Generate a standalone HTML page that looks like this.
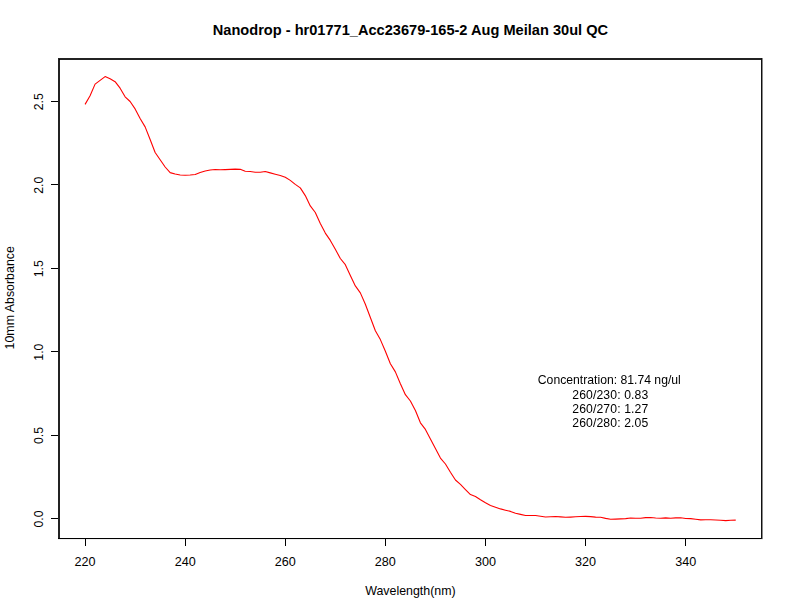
<!DOCTYPE html><html><head><meta charset="utf-8"><style>html,body{margin:0;padding:0;background:#fff;}svg{display:block;}#w{position:relative;width:792px;height:612px;overflow:hidden;}.ov{position:absolute;left:0;top:0;will-change:transform;}</style></head><body>
<div id="w"><svg width="792" height="612" viewBox="0 0 792 612">
<rect x="0" y="0" width="792" height="612" fill="#fff"/>
<text transform="translate(410.4,34.95) scale(1,1.065)" x="0" y="0" text-anchor="middle" font-family="Liberation Sans, Arial, sans-serif" font-weight="bold" font-size="14.6" fill="#000">Nanodrop - hr01771_Acc23679-165-2 Aug Meilan 30ul QC</text>
<rect x="58" y="58" width="704" height="2" fill="#232323"/>
<rect x="58" y="58" width="2" height="481" fill="#232323"/>
<rect x="59" y="59" width="1" height="1" fill="#000"/>
<rect x="58" y="538" width="705" height="1" fill="#000"/>
<rect x="58" y="539" width="705" height="1" fill="#f0f0f0"/>
<rect x="761" y="58" width="1" height="481" fill="#111"/>
<rect x="762" y="58" width="1" height="481" fill="#8a8a8a"/>
<rect x="85" y="539" width="1" height="7" fill="#000"/>
<text x="85.07" y="566" text-anchor="middle" font-family="Liberation Sans, Arial, sans-serif" font-size="12.6" fill="#000">220</text>
<rect x="185" y="539" width="1" height="7" fill="#000"/>
<text x="185.17" y="566" text-anchor="middle" font-family="Liberation Sans, Arial, sans-serif" font-size="12.6" fill="#000">240</text>
<rect x="285" y="539" width="1" height="7" fill="#000"/>
<text x="285.27" y="566" text-anchor="middle" font-family="Liberation Sans, Arial, sans-serif" font-size="12.6" fill="#000">260</text>
<rect x="385" y="539" width="1" height="7" fill="#000"/>
<text x="385.37" y="566" text-anchor="middle" font-family="Liberation Sans, Arial, sans-serif" font-size="12.6" fill="#000">280</text>
<rect x="485" y="539" width="1" height="7" fill="#000"/>
<text x="485.48" y="566" text-anchor="middle" font-family="Liberation Sans, Arial, sans-serif" font-size="12.6" fill="#000">300</text>
<rect x="585" y="539" width="1" height="7" fill="#000"/>
<text x="585.58" y="566" text-anchor="middle" font-family="Liberation Sans, Arial, sans-serif" font-size="12.6" fill="#000">320</text>
<rect x="685" y="539" width="1" height="7" fill="#000"/>
<text x="685.68" y="566" text-anchor="middle" font-family="Liberation Sans, Arial, sans-serif" font-size="12.6" fill="#000">340</text>
<rect x="51" y="518" width="7" height="1" fill="#000"/>
<text transform="translate(43.2,519.00) rotate(-90)" x="0" y="0" text-anchor="middle" font-family="Liberation Sans, Arial, sans-serif" font-size="12.3" fill="#000">0.0</text>
<rect x="51" y="435" width="7" height="1" fill="#000"/>
<text transform="translate(43.2,435.56) rotate(-90)" x="0" y="0" text-anchor="middle" font-family="Liberation Sans, Arial, sans-serif" font-size="12.3" fill="#000">0.5</text>
<rect x="51" y="351" width="7" height="1" fill="#000"/>
<text transform="translate(43.2,352.12) rotate(-90)" x="0" y="0" text-anchor="middle" font-family="Liberation Sans, Arial, sans-serif" font-size="12.3" fill="#000">1.0</text>
<rect x="51" y="268" width="7" height="1" fill="#000"/>
<text transform="translate(43.2,268.68) rotate(-90)" x="0" y="0" text-anchor="middle" font-family="Liberation Sans, Arial, sans-serif" font-size="12.3" fill="#000">1.5</text>
<rect x="51" y="184" width="7" height="1" fill="#000"/>
<text transform="translate(43.2,185.24) rotate(-90)" x="0" y="0" text-anchor="middle" font-family="Liberation Sans, Arial, sans-serif" font-size="12.3" fill="#000">2.0</text>
<rect x="51" y="101" width="7" height="1" fill="#000"/>
<text transform="translate(43.2,101.80) rotate(-90)" x="0" y="0" text-anchor="middle" font-family="Liberation Sans, Arial, sans-serif" font-size="12.3" fill="#000">2.5</text>
<text x="410.4" y="594.7" text-anchor="middle" font-family="Liberation Sans, Arial, sans-serif" font-size="12.4" fill="#000">Wavelength(nm)</text>
<text transform="translate(14.3,297.8) rotate(-90)" x="0" y="0" text-anchor="middle" font-family="Liberation Sans, Arial, sans-serif" font-size="12.4" fill="#000">10mm Absorbance</text>
<polyline points="85.07,104.40 90.07,95.80 95.08,84.10 100.08,80.40 105.09,76.60 110.09,78.80 115.10,81.70 120.10,88.20 125.11,96.80 130.11,101.50 135.12,108.90 140.12,118.50 145.13,126.90 150.13,139.50 155.14,152.50 160.14,159.80 165.15,167.00 170.15,172.60 175.16,174.00 180.16,175.00 185.17,175.20 190.17,175.00 195.18,174.50 200.18,172.50 205.19,171.00 210.19,170.00 215.20,169.50 220.21,169.75 225.21,169.60 230.22,169.35 235.22,169.10 240.23,169.35 245.23,171.30 250.24,171.50 255.24,172.20 260.25,172.30 265.25,171.50 270.26,172.90 275.26,174.20 280.27,175.50 285.27,177.30 290.28,180.40 295.28,184.40 300.29,187.90 305.29,195.60 310.30,205.90 315.30,212.50 320.31,223.50 325.31,233.10 330.32,240.40 335.32,249.30 340.33,258.50 345.33,264.70 350.34,275.60 355.34,285.90 360.35,292.90 365.35,304.30 370.36,317.50 375.36,330.70 380.37,339.60 385.37,351.30 390.38,363.80 395.38,371.90 400.39,383.70 405.39,394.70 410.40,401.00 415.41,410.50 420.41,422.80 425.42,429.40 430.42,439.00 435.43,448.50 440.43,458.10 445.44,464.00 450.44,472.30 455.45,480.00 460.45,484.40 465.46,489.60 470.46,494.60 475.47,496.50 480.47,499.80 485.48,502.80 490.48,505.40 495.49,507.20 500.49,508.90 505.50,510.20 510.50,511.40 515.51,513.20 520.51,514.40 525.52,515.50 530.52,515.50 535.53,515.50 540.53,516.30 545.54,517.00 550.54,516.80 555.55,516.50 560.55,516.90 565.56,517.30 570.56,517.10 575.57,516.80 580.57,516.50 585.58,516.40 590.58,516.60 595.59,517.10 600.59,517.30 605.60,518.40 610.61,519.30 615.61,519.10 620.62,518.90 625.62,518.60 630.63,518.00 635.63,518.30 640.64,518.20 645.64,517.60 650.65,517.50 655.65,518.00 660.66,518.20 665.66,517.90 670.67,518.20 675.67,517.90 680.68,517.80 685.68,518.45 690.69,518.60 695.69,519.20 700.70,519.90 705.70,519.80 710.71,519.80 715.71,520.00 720.72,520.30 725.72,520.60 730.73,520.30 735.73,520.10" fill="none" stroke="#ff0000" stroke-width="1.1" stroke-linejoin="round"/>
</svg>
<svg class="ov" width="792" height="612" viewBox="0 0 792 612">
<text x="609.3" y="383.6" text-anchor="middle" font-family="Liberation Sans, Arial, sans-serif" font-size="12.2" letter-spacing="0" fill="#000">Concentration: 81.74 ng/ul</text>
<text x="610.3" y="398.9" text-anchor="middle" font-family="Liberation Sans, Arial, sans-serif" font-size="12.2" letter-spacing="0.12" fill="#000">260/230: 0.83</text>
<text x="610.3" y="412.9" text-anchor="middle" font-family="Liberation Sans, Arial, sans-serif" font-size="12.2" letter-spacing="0.12" fill="#000">260/270: 1.27</text>
<text x="610.3" y="426.9" text-anchor="middle" font-family="Liberation Sans, Arial, sans-serif" font-size="12.2" letter-spacing="0.12" fill="#000">260/280: 2.05</text>
</svg></div></body></html>
